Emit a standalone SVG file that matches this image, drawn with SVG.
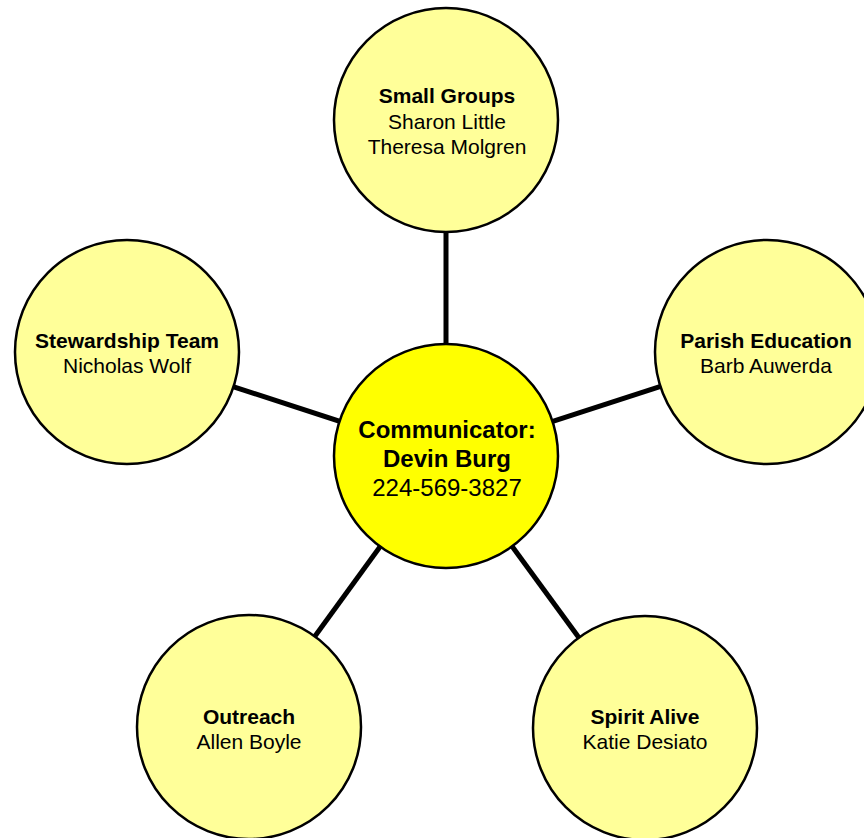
<svg xmlns="http://www.w3.org/2000/svg" width="864" height="838" viewBox="0 0 864 838">
<style>
.c{stroke:#000;stroke-width:2.5}
.o{fill:#FFFF99}
.m{fill:#FFFF00}
.cn{stroke:#000;stroke-width:5;fill:none}
text{font-family:"Liberation Sans",Arial,sans-serif;text-anchor:middle;fill:#000}
.t{font-size:21px}
.b{font-weight:bold}
.ct{font-size:24px}
</style>
<rect width="864" height="838" fill="#fff"/>
<g id="connectors">
<line class="cn" x1="446" y1="456" x2="446" y2="120"/>
<line class="cn" x1="446" y1="456" x2="127" y2="352"/>
<line class="cn" x1="446" y1="456" x2="767" y2="352"/>
<line class="cn" x1="446" y1="456" x2="249" y2="727"/>
<line class="cn" x1="446" y1="456" x2="645" y2="728"/>
</g>
<g id="small-groups">
<circle class="c o" cx="446" cy="120" r="112"/>
<text class="t b" x="447" y="103">Small Groups</text>
<text class="t" x="447" y="129">Sharon Little</text>
<text class="t" x="447" y="154">Theresa Molgren</text>
</g>
<g id="stewardship">
<circle class="c o" cx="127" cy="352" r="112"/>
<text class="t b" x="127" y="348">Stewardship Team</text>
<text class="t" x="127" y="373">Nicholas Wolf</text>
</g>
<g id="parish-education">
<circle class="c o" cx="767" cy="352" r="112"/>
<text class="t b" x="766" y="348">Parish Education</text>
<text class="t" x="766" y="373">Barb Auwerda</text>
</g>
<g id="outreach">
<circle class="c o" cx="249" cy="727" r="112"/>
<text class="t b" x="249" y="724">Outreach</text>
<text class="t" x="249" y="749">Allen Boyle</text>
</g>
<g id="spirit-alive">
<circle class="c o" cx="645" cy="728" r="112"/>
<text class="t b" x="645" y="724">Spirit Alive</text>
<text class="t" x="645" y="749">Katie Desiato</text>
</g>
<g id="communicator">
<circle class="c m" cx="446" cy="456" r="112"/>
<text class="ct b" x="447" y="438">Communicator:</text>
<text class="ct b" x="447" y="467">Devin Burg</text>
<text class="ct" x="447" y="496">224-569-3827</text>
</g>
</svg>
